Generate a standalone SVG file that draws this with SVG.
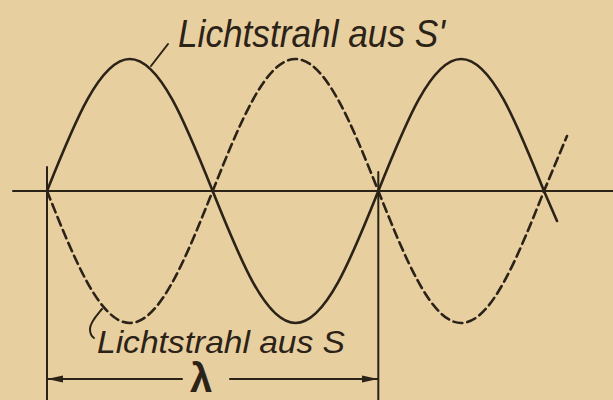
<svg xmlns="http://www.w3.org/2000/svg" width="613" height="400" viewBox="0 0 613 400">
<style>
.ink{fill:none;stroke:#2b2218;stroke-linecap:round;stroke-linejoin:round}
.wave{stroke-width:2.6}
.dash{stroke-dasharray:9 5}
.thin{stroke-width:2}
.lbl{font-family:"Liberation Sans","DejaVu Sans",sans-serif;font-style:italic;fill:#2b2218}
.lam{font-family:"Liberation Sans","DejaVu Sans",sans-serif;font-weight:bold;fill:#2b2218}
</style>
<defs>
<marker id="arr" viewBox="0 0 16 8" refX="16" refY="4" markerWidth="16" markerHeight="8" markerUnits="userSpaceOnUse" orient="auto-start-reverse">
<path d="M0,0.5 L16,4 L0,7.5 z" fill="#2b2218"/>
</marker>
</defs>
<rect width="613" height="400" fill="#e8cf9f"/>
<g id="axis">
<path class="ink thin" d="M13,191 H613"/>
<path class="ink thin" d="M47,167 V400"/>
<path class="ink thin" d="M378.3,172 V400"/>
</g>
<g id="wave-s-prime">
<path class="ink wave" d="M47,191 C74.01,123.4 99.85,59 129.83,59 C159.83,59 185.66,123.4 212.67,191 C239.68,258.6 265.52,323 295.5,323 C325.5,323 351.33,258.6 378.33,191 C405.34,123.4 431.18,59 461.17,59 C491.17,59 517,123.4 544,191 L557,221"/>
</g>
<g id="wave-s">
<path class="ink wave dash" d="M47,191 C74.01,258.6 99.85,323 129.83,323 C159.83,323 185.66,258.6 212.67,191 C239.68,123.4 265.52,59 295.5,59 C325.5,59 351.33,123.4 378.33,191 C405.34,258.6 431.18,323 461.17,323 C491.17,323 517,258.6 544,191 L567,136"/>
</g>
<g id="connectors">
<path class="ink thin" d="M151,66 L168,44"/>
<path class="ink thin" d="M102,309 C97,315 90,322 90,329 C90,334 91,336 94,338"/>
<path class="ink thin" d="M182,379 H47" marker-end="url(#arr)"/>
<path class="ink thin" d="M230,379 H378" marker-end="url(#arr)"/>
</g>
<g id="label-s-prime">
<text class="lbl" x="178" y="47" font-size="38" textLength="267" lengthAdjust="spacingAndGlyphs">Lichtstrahl aus S'</text>
</g>
<g id="label-s">
<text class="lbl" x="97" y="353" font-size="32" textLength="248" lengthAdjust="spacingAndGlyphs">Lichtstrahl aus S</text>
</g>
<g id="label-lambda">
<text class="lam" x="201" y="392" font-size="40" text-anchor="middle">λ</text>
</g>
</svg>
